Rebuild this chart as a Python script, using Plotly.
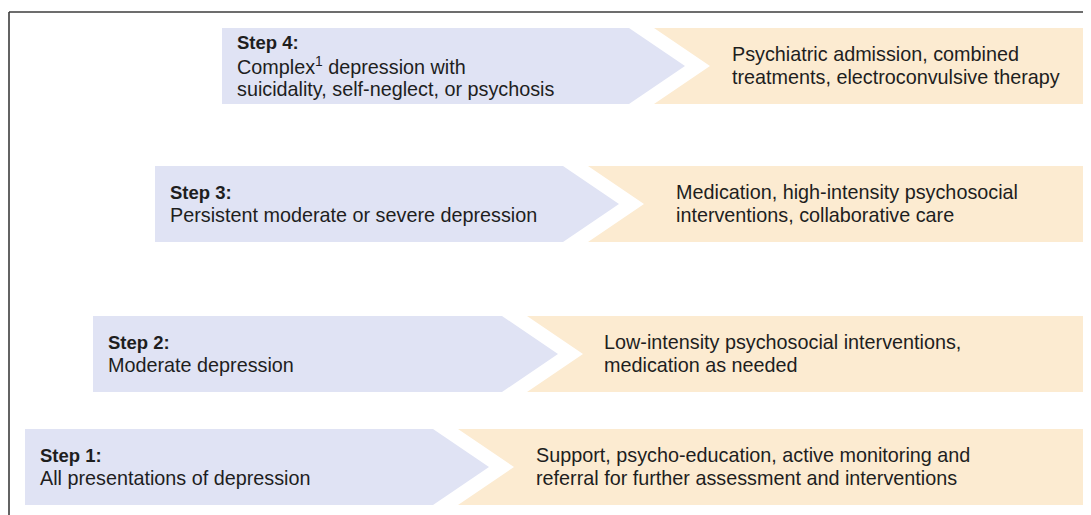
import plotly.graph_objects as go

# ---- content ----
steps = ["Step 4:", "Step 3:", "Step 2:", "Step 1:"]
severity_lines = [
    ["Complex<sup>1</sup> depression with", "suicidality, self-neglect, or psychosis"],
    ["Persistent moderate or severe depression"],
    ["Moderate depression"],
    ["All presentations of depression"],
]
intervention_lines = [
    ["Psychiatric admission, combined", "treatments, electroconvulsive therapy"],
    ["Medication, high-intensity psychosocial", "interventions, collaborative care"],
    ["Low-intensity psychosocial interventions,", "medication as needed"],
    ["Support, psycho-education, active monitoring and", "referral for further assessment and interventions"],
]

# ---- geometry (page pixels, diagram layout) ----
W, H = 1091, 515
OFF = 8  # default page body margin
row_top = [28, 166, 316, 429]
row_h = 76
blue_left = [222, 155, 93, 25]
blue_flat_end = [629, 563, 502, 433]
right_text_pad = [20, 30, 19, 20]
tip_depth = 56
gap = 25
orange_right = 1088
line_gap = 23

BLUE = "#E0E3F4"
ORANGE = "#FCEBD1"
TEXT = "#1E1E1E"
FONT = "Liberation Sans, Arial, sans-serif"
REG_SIZE = 19.8
BOLD_SIZE = 18.5

shapes = []
annotations = []

# frame lines (top and left)
shapes.append(dict(type="line", x0=9, x1=W + 5, y0=12, y1=12, line=dict(color="#3c3c3c", width=1.6), layer="above"))
shapes.append(dict(type="line", x0=9, x1=9, y0=12, y1=H + 5, line=dict(color="#3c3c3c", width=1.6), layer="above"))

for i in range(len(steps)):
    t = row_top[i]
    b = t + row_h
    m = (t + b) / 2
    bl = blue_left[i]
    fe = blue_flat_end[i]
    tip = fe + tip_depth
    os_ = fe + gap
    notch = os_ + tip_depth
    shapes.append(dict(type="path",
                       path=f"M {bl},{t} L {fe},{t} L {tip},{m} L {fe},{b} L {bl},{b} Z",
                       fillcolor=BLUE, line=dict(width=0), layer="below"))
    shapes.append(dict(type="path",
                       path=f"M {os_},{t} L {orange_right},{t} L {orange_right},{b} L {os_},{b} L {notch},{m} Z",
                       fillcolor=ORANGE, line=dict(width=0), layer="below"))

    # left text block
    left_lines = [("<b>" + steps[i] + "</b>", BOLD_SIZE)] + [(s, REG_SIZE) for s in severity_lines[i]]
    n = len(left_lines)
    y0 = m - 0.5 - (n - 1) * line_gap / 2
    for k, (txt, sz) in enumerate(left_lines):
        annotations.append(dict(x=bl + 13, y=y0 + k * line_gap, xref="x", yref="y",
                                text=txt, showarrow=False, xanchor="left", yanchor="middle",
                                font=dict(family=FONT, size=sz, color=TEXT)))
    # right text block
    r_lines = intervention_lines[i]
    n = len(r_lines)
    y0 = m - 0.5 - (n - 1) * line_gap / 2
    for k, txt in enumerate(r_lines):
        annotations.append(dict(x=notch + right_text_pad[i], y=y0 + k * line_gap, xref="x", yref="y",
                                text=txt, showarrow=False, xanchor="left", yanchor="middle",
                                font=dict(family=FONT, size=REG_SIZE, color=TEXT)))

fig = go.Figure()
fig.update_layout(
    width=W - OFF, height=H - OFF,
    margin=dict(l=0, r=0, t=0, b=0),
    paper_bgcolor="white", plot_bgcolor="white",
    xaxis=dict(range=[OFF, W], visible=False, fixedrange=True),
    yaxis=dict(range=[H, OFF], visible=False, fixedrange=True),
    shapes=shapes, annotations=annotations,
    showlegend=False,
)
fig.write_html("out.html", config={"displayModeBar": False})
